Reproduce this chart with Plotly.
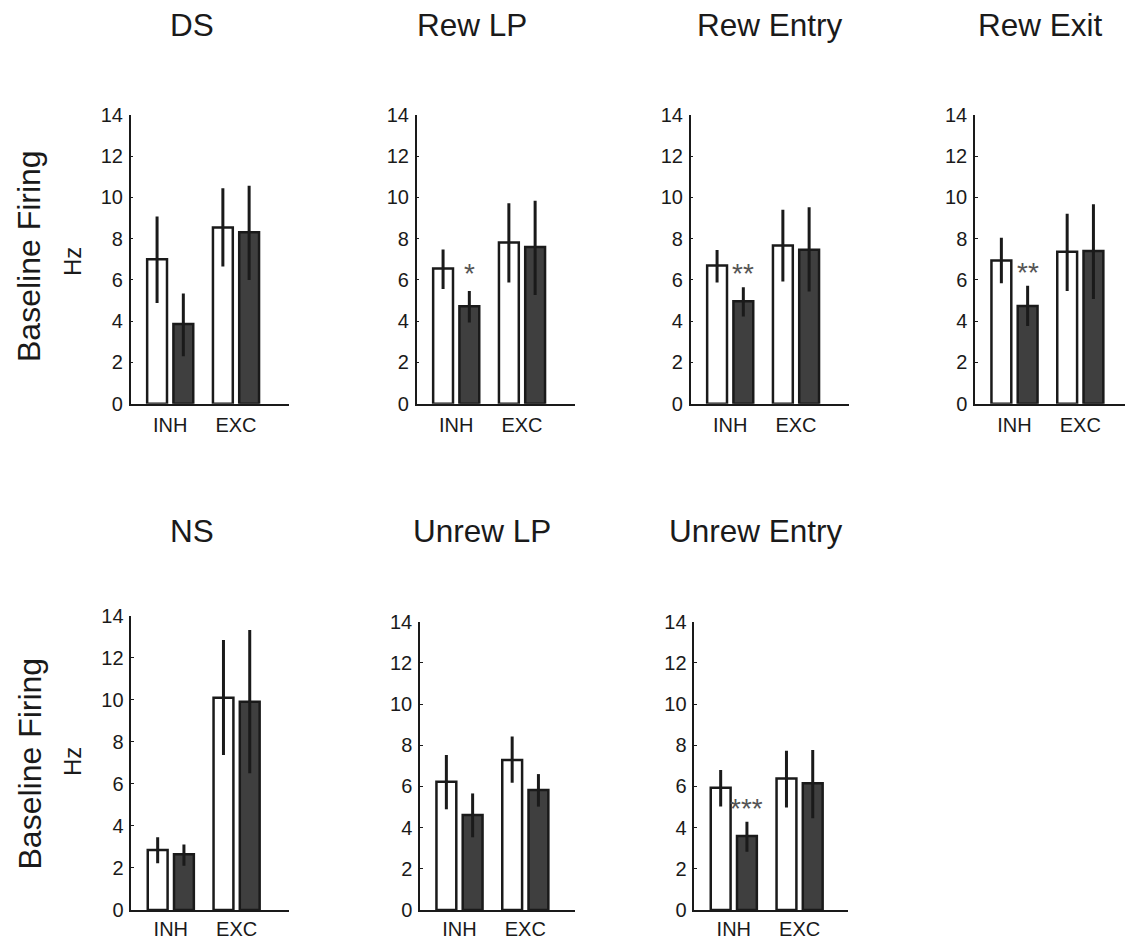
import plotly.graph_objects as go

# ---------------- data ----------------
panels = ["DS", "Rew LP", "Rew Entry", "Rew Exit", "NS", "Unrew LP", "Unrew Entry"]
groups = ["INH", "EXC"]

white_mean = [[7.00, 8.55], [6.56, 7.82], [6.70, 7.67], [6.95, 7.37], [2.85, 10.10], [6.23, 7.28], [5.94, 6.39]]
white_hi = [[9.08, 10.45], [7.48, 9.72], [7.45, 9.40], [8.05, 9.21], [3.46, 12.84], [7.53, 8.42], [6.80, 7.73]]
white_lo = [[4.88, 6.65], [5.56, 5.88], [5.88, 5.93], [5.84, 5.46], [2.22, 7.37], [4.89, 6.18], [5.02, 4.98]]

dark_mean = [[3.87, 8.32], [4.72, 7.60], [4.97, 7.47], [4.74, 7.40], [2.65, 9.91], [4.61, 5.83], [3.59, 6.15]]
dark_hi = [[5.35, 10.57], [5.46, 9.84], [5.65, 9.53], [5.72, 9.67], [3.12, 13.32], [5.66, 6.60], [4.29, 7.77]]
dark_lo = [[2.30, 6.00], [3.94, 5.27], [4.23, 5.44], [3.77, 5.08], [2.11, 6.50], [3.53, 5.02], [2.83, 4.45]]

stars = ["", "*", "**", "**", "", "", "***"]
stars_y = [0, 6.6, 6.6, 6.65, 0, 0, 5.2]

y_ticks = [0, 2, 4, 6, 8, 10, 12, 14]
y_label = "Baseline Firing"
y_unit = "Hz"

# ---------------- geometry (pixels) ----------------
W, H = 1125, 940
# (x_left, x_right, y_zero, y_top, x-label standoff)
geom = [
    (130.7, 289.0, 403.7, 115.0, 3),
    (416.7, 575.0, 403.7, 115.0, 3),
    (690.7, 848.7, 403.7, 115.0, 3),
    (975.0, 1125.0, 403.7, 115.0, 3),
    (131.3, 289.0, 910.0, 615.7, 0),
    (420.0, 575.0, 910.0, 621.7, 0),
    (694.3, 848.3, 910.0, 621.7, 0),
]
title_pos = [(191.7, 24.5), (472.0, 24.5), (770.0, 24.5), (1040.3, 24.5),
             (191.7, 531.0), (481.7, 531.0), (755.8, 531.0)]
PX_PER_UNIT = 65.8
X0 = -39.5 / PX_PER_UNIT

INK = "#1a1a1a"
DARK = "#3f3f3f"
FONT = "Liberation Sans, Arial, sans-serif"

fig = go.Figure()
layout = dict(
    width=W, height=H, autosize=False,
    margin=dict(l=0, r=0, t=0, b=0, pad=0, autoexpand=False),
    paper_bgcolor="white", plot_bgcolor="white",
    showlegend=False,
    barmode="group", bargap=0.202, bargroupgap=0.244,
    font=dict(family=FONT, color=INK),
)
annotations = []

for i, name in enumerate(panels):
    n = i + 1
    xs = "" if n == 1 else str(n)
    xl, xr, yz, yt, so = geom[i]
    for mean, hi, lo, fill in [(white_mean[i], white_hi[i], white_lo[i], "white"),
                               (dark_mean[i], dark_hi[i], dark_lo[i], DARK)]:
        fig.add_trace(go.Bar(
            x=groups, y=mean,
            xaxis="x" + xs, yaxis="y" + xs,
            marker=dict(color=fill, line=dict(color=INK, width=2.5)),
            error_y=dict(type="data", symmetric=False,
                         array=[h - m for h, m in zip(hi, mean)],
                         arrayminus=[m - l for l, m in zip(lo, mean)],
                         color=INK, thickness=3, width=0),
            hoverinfo="skip",
        ))
    layout["xaxis" + xs] = dict(
        domain=[xl / W, xr / W], anchor="y" + xs, automargin=False,
        range=[X0, X0 + (xr - xl) / PX_PER_UNIT],
        type="category", categoryorder="array", categoryarray=groups,
        showgrid=False, zeroline=False, showline=True, linecolor=INK, linewidth=1.5,
        ticks="", tickfont=dict(size=20, color=INK, family=FONT),
        ticklabelstandoff=so, fixedrange=True,
    )
    layout["yaxis" + xs] = dict(
        domain=[1 - yz / H, 1 - yt / H], anchor="x" + xs, automargin=False,
        range=[0, 14], tickvals=y_ticks,
        showgrid=False, zeroline=False, showline=True, linecolor=INK, linewidth=1.5,
        ticks="inside", ticklen=3, tickwidth=1, tickcolor=INK,
        tickfont=dict(size=20, color=INK, family=FONT),
        ticklabelstandoff=2, fixedrange=True,
    )
    tx, ty = title_pos[i]
    annotations.append(dict(text=name, x=tx / W, y=1 - ty / H, xref="paper", yref="paper",
                            showarrow=False, xanchor="center", yanchor="middle",
                            font=dict(size=31.5, color=INK, family=FONT)))
    if stars[i]:
        annotations.append(dict(text=stars[i], x=0.2, y=stars_y[i], xref="x" + xs, yref="y" + xs,
                                showarrow=False, xanchor="center", yanchor="middle", yshift=-6,
                                font=dict(size=28, color="#555555", family=FONT)))

for cy, hy in [(256.0, 262.0), (763.5, 762.0)]:
    annotations.append(dict(text=y_label, x=29 / W, y=1 - cy / H, xref="paper", yref="paper",
                            showarrow=False, textangle=-90, xanchor="center", yanchor="middle",
                            font=dict(size=32, color=INK, family=FONT)))
    annotations.append(dict(text=y_unit, x=72 / W, y=1 - hy / H, xref="paper", yref="paper",
                            showarrow=False, textangle=-90, xanchor="center", yanchor="middle",
                            font=dict(size=24, color=INK, family=FONT)))

layout["annotations"] = annotations
fig.update_layout(**layout)
fig.write_html("out.html", config={"displayModeBar": False})
